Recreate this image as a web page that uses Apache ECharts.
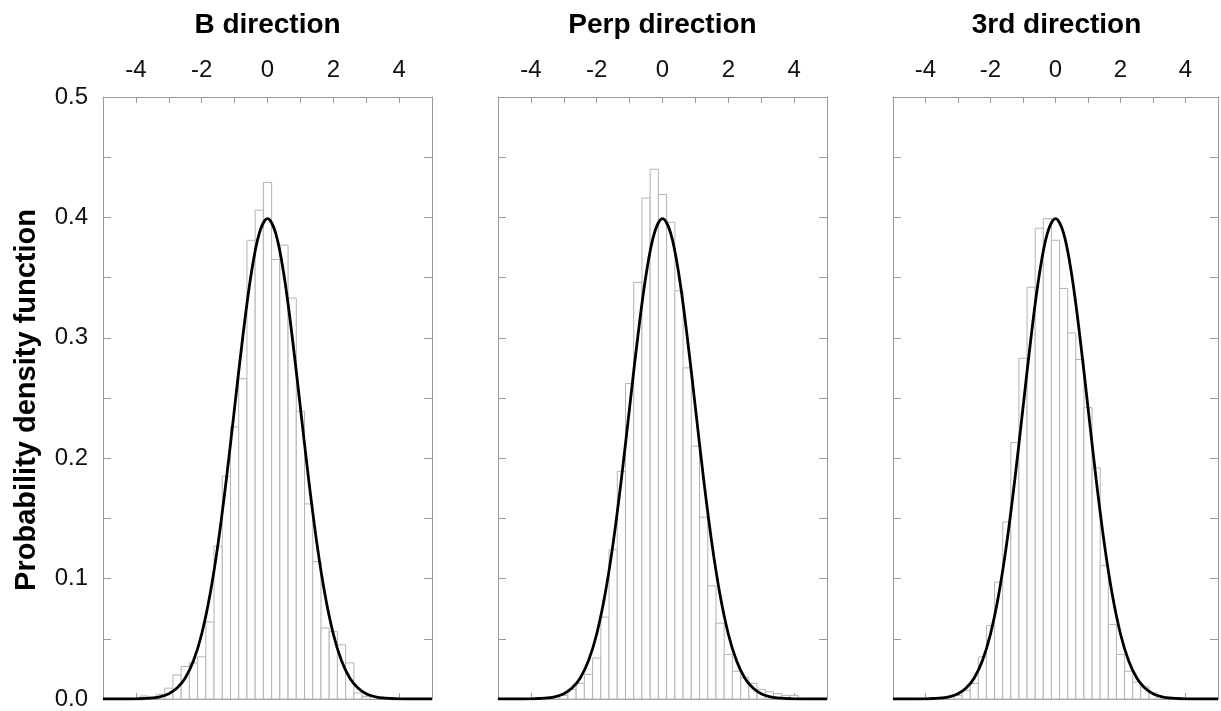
<!DOCTYPE html>
<html>
<head>
<meta charset="utf-8">
<script src="https://cdn.jsdelivr.net/npm/echarts@6/dist/echarts.min.js"></script>
<style>
  html, body { margin: 0; padding: 0; background: #fff; }
  #chart { width: 1221px; height: 711px; }
</style>
</head>
<body>
<div id="chart"></div>
<script>
// histogram bin centres (bin width 0.25), shared by the three panels
const binCenters = [
  -3.75, -3.5, -3.25, -3, -2.75, -2.5, -2.25, -2, -1.75, -1.5, -1.25, -1,
  -0.75, -0.5, -0.25, 0, 0.25, 0.5, 0.75, 1, 1.25, 1.5, 1.75, 2,
  2.25, 2.5, 2.75, 3, 3.25, 3.5, 3.75, 4
];

const bDirection = [
  0.0025, 0.001, 0.004, 0.009, 0.020, 0.027, 0.030, 0.035, 0.064, 0.127, 0.185, 0.226,
  0.266, 0.381, 0.406, 0.429, 0.365, 0.377, 0.333, 0.239, 0.162, 0.114, 0.059, 0.056,
  0.045, 0.030, 0.005, 0.002, 0, 0, 0, 0
];

const perpDirection = [
  0, 0.001, 0.002, 0.003, 0.008, 0.013, 0.0205, 0.034, 0.068, 0.124, 0.189, 0.262,
  0.346, 0.416, 0.440, 0.419, 0.396, 0.339, 0.275, 0.210, 0.151, 0.094, 0.063, 0.037,
  0.023, 0.018, 0.013, 0.008, 0.006, 0.0045, 0.003, 0.003
];

const thirdDirection = [
  0, 0, 0.002, 0.003, 0.007, 0.013, 0.035, 0.061, 0.097, 0.147, 0.213, 0.283,
  0.342, 0.391, 0.399, 0.381, 0.341, 0.304, 0.282, 0.242, 0.192, 0.111, 0.062, 0.037,
  0.023, 0.014, 0.010, 0.005, 0.002, 0, 0, 0
];

// fitted curve (same in every panel)
const fitX = [
  -5, -4.75, -4.5, -4.25, -4, -3.75, -3.5, -3.25, -3, -2.75, -2.5, -2.25, -2, -1.75,
  -1.5, -1.25, -1, -0.75, -0.5, -0.25, 0, 0.25, 0.5, 0.75, 1, 1.25, 1.5, 1.75,
  2, 2.25, 2.5, 2.75, 3, 3.25, 3.5, 3.75, 4, 4.25, 4.5, 4.75, 5
];
const fitY = [
  0, 0, 0, 0, 0.0001, 0.0004, 0.0009, 0.0020, 0.0044, 0.0091, 0.0175, 0.0317, 0.0540, 0.0863,
  0.1295, 0.1826, 0.2420, 0.3011, 0.3521, 0.3867, 0.3989, 0.3867, 0.3521, 0.3011, 0.2420, 0.1826, 0.1295, 0.0863,
  0.0540, 0.0317, 0.0175, 0.0091, 0.0044, 0.0020, 0.0009, 0.0004, 0.0001, 0, 0, 0, 0
];

const panelTitles = ["B direction", "Perp direction", "3rd direction"];
const panelData = [bDirection, perpDirection, thirdDirection];
const yAxisTitle = "Probability density function";

const BIN_WIDTH = 0.25;
const FONT = "'Liberation Sans', Arial, Helvetica, sans-serif";
const AXIS_GRAY = "#9a9a9a";
const BAR_GRAY = "#b4b4b4";

const panelLeft = [103, 498, 893];
const panelWidth = [329, 329, 327];
const plotTop = 97;
const plotHeight = 602;

const chart = echarts.init(document.getElementById("chart"), null, { renderer: "canvas" });

const grids = [];
const xAxes = [];
const yAxes = [];
const series = [];
const graphics = [];

const fitPoints = fitX.map((x, i) => [x, fitY[i]]);

panelTitles.forEach((title, i) => {
  grids.push({ left: panelLeft[i], top: plotTop, width: panelWidth[i], height: plotHeight });

  const tickStyle = { color: AXIS_GRAY, width: 1 };

  // top x axis carries the labels
  xAxes.push({
    gridIndex: i,
    type: "value",
    position: "top",
    min: -5,
    max: 5,
    interval: 1,
    axisLine: { show: true, onZero: false, lineStyle: tickStyle },
    axisTick: { inside: true, length: 6, lineStyle: tickStyle },
    splitLine: { show: false },
    axisLabel: {
      margin: 15,
      color: "#111",
      fontSize: 24,
      fontFamily: FONT,
      formatter(v) {
        return v % 2 === 0 && Math.abs(v) < 5 ? String(v) : "";
      }
    }
  });
  // bottom x axis: ticks only
  xAxes.push({
    gridIndex: i,
    type: "value",
    position: "bottom",
    min: -5,
    max: 5,
    interval: 1,
    axisLine: { show: true, onZero: false, lineStyle: tickStyle },
    axisTick: { inside: true, length: 6, lineStyle: tickStyle },
    splitLine: { show: false },
    axisLabel: { show: false }
  });

  yAxes.push({
    gridIndex: i,
    type: "value",
    position: "left",
    min: 0,
    max: 0.5,
    interval: 0.05,
    axisLine: { show: true, onZero: false, lineStyle: tickStyle },
    axisTick: { inside: true, length: 8, lineStyle: tickStyle },
    splitLine: { show: false },
    axisLabel: {
      show: i === 0,
      margin: 15,
      color: "#111",
      fontSize: 24,
      fontFamily: FONT,
      formatter(v) {
        return Math.round(v * 100) % 10 === 0 ? v.toFixed(1) : "";
      }
    }
  });
  yAxes.push({
    gridIndex: i,
    type: "value",
    position: "right",
    min: 0,
    max: 0.5,
    interval: 0.05,
    axisLine: { show: true, onZero: false, lineStyle: tickStyle },
    axisTick: { inside: true, length: 8, lineStyle: tickStyle },
    splitLine: { show: false },
    axisLabel: { show: false }
  });

  const values = panelData[i];
  series.push({
    name: title,
    type: "custom",
    xAxisIndex: i * 2,
    yAxisIndex: i * 2,
    data: binCenters.map((c, k) => [c, values[k]]),
    z: 2,
    renderItem(params, api) {
      const center = api.value(0);
      const height = api.value(1);
      if (!height) {
        return null;
      }
      const p0 = api.coord([center - BIN_WIDTH / 2, height]);
      const p1 = api.coord([center + BIN_WIDTH / 2, 0]);
      return {
        type: "rect",
        shape: { x: p0[0], y: p0[1], width: p1[0] - p0[0], height: p1[1] - p0[1] },
        style: { fill: "#fff", stroke: BAR_GRAY, lineWidth: 1 }
      };
    }
  });

  series.push({
    name: title + " fit",
    type: "line",
    xAxisIndex: i * 2,
    yAxisIndex: i * 2,
    data: fitPoints,
    smooth: 0.35,
    symbol: "none",
    z: 5,
    lineStyle: { color: "#000", width: 2.8 }
  });

  graphics.push({
    type: "text",
    x: panelLeft[i] + panelWidth[i] / 2,
    y: 25,
    style: {
      text: title,
      align: "center",
      verticalAlign: "middle",
      font: "bold 28px " + FONT,
      fill: "#000"
    }
  });
});

graphics.push({
  type: "text",
  x: 27,
  y: 400,
  rotation: Math.PI / 2,
  style: {
    text: yAxisTitle,
    align: "center",
    verticalAlign: "middle",
    font: "bold 29px " + FONT,
    fill: "#000"
  }
});

chart.setOption({
  backgroundColor: "#fff",
  animation: false,
  grid: grids,
  xAxis: xAxes,
  yAxis: yAxes,
  series,
  graphic: graphics
});
</script>
</body>
</html>
